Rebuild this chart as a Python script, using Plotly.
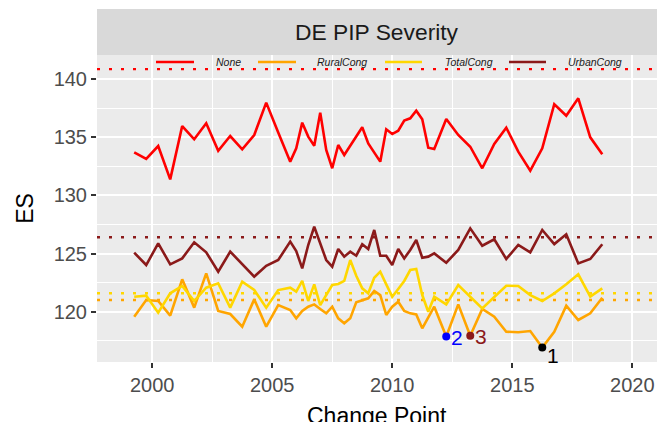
import plotly.graph_objects as go

# ---------------- data ----------------
years = [1999.25, 1999.75, 2000.25, 2000.75, 2001.25, 2001.75, 2002.25, 2002.75,
         2003.25, 2003.75, 2004.25, 2004.75, 2005.25, 2005.75,
         2006.0, 2006.25, 2006.5, 2006.75, 2007.0, 2007.25, 2007.5, 2007.75,
         2008.0, 2008.25, 2008.5, 2008.75, 2009.0, 2009.25, 2009.5, 2009.75,
         2010.0, 2010.25, 2010.5, 2010.75, 2011.0, 2011.25, 2011.5, 2011.75,
         2012.25, 2012.75, 2013.25, 2013.75, 2014.25, 2014.75, 2015.25, 2015.75,
         2016.25, 2016.75, 2017.25, 2017.75, 2018.25, 2018.75]

es_none = [133.70, 133.13, 134.24, 131.38, 135.96, 134.82, 136.19, 133.84,
           135.10, 133.96, 135.19, 137.97, 135.40, 132.90,
           134.04, 136.25, 135.05, 134.27, 137.11, 133.90, 132.33, 134.33,
           133.47, 134.26, 135.05, 135.85, 134.47, 133.70, 132.90, 135.68,
           135.27, 135.56, 136.42, 136.62, 137.28, 136.54, 134.10, 133.99,
           136.56, 135.19, 134.18, 132.33, 134.42, 135.82, 133.76, 132.12,
           134.04, 137.83, 136.85, 138.34, 134.99, 133.53]

es_rural = [119.58, 121.01, 120.93, 119.67, 122.79, 120.36, 123.30, 120.07,
            119.81, 118.72, 121.07, 118.72, 120.58, 120.15,
            119.44, 120.07, 120.44, 120.64, 120.24, 119.87, 120.44, 119.44,
            119.01, 119.44, 120.81, 121.01, 121.16, 121.79, 121.44, 119.73,
            120.44, 120.87, 120.07, 119.87, 119.78, 118.58, 119.58, 120.44,
            117.88, 120.64, 117.94, 120.25, 119.58, 118.29, 118.24, 118.35,
            116.93, 118.29, 120.53, 119.30, 119.87, 121.21]

es_total = [121.30, 121.39, 119.93, 121.59, 122.22, 120.93, 122.07, 122.45,
            120.36, 122.59, 121.87, 120.36, 121.87, 122.07,
            121.73, 122.65, 120.93, 122.36, 120.58, 121.44, 122.30, 122.39,
            122.65, 124.45, 123.10, 122.02, 121.59, 122.93, 123.45, 122.36,
            121.30, 121.96, 122.65, 123.59, 123.68, 121.44, 120.01, 121.30,
            120.64, 122.30, 121.30, 120.30, 121.27, 122.24, 122.22, 121.44,
            120.93, 121.59, 122.36, 123.22, 121.30, 122.02]

es_urban = [125.08, 124.02, 125.88, 124.08, 124.59, 125.97, 125.11, 123.45,
            125.17, 124.08, 123.02, 123.96, 124.45, 126.03,
            125.22, 123.73, 125.74, 127.31, 125.88, 124.45, 123.88, 125.40,
            124.74, 125.17, 124.82, 125.80, 125.40, 127.03, 124.82, 124.82,
            124.02, 125.40, 124.59, 125.31, 126.17, 124.65, 124.74, 125.02,
            124.22, 125.31, 127.17, 125.68, 126.23, 124.54, 125.74, 125.11,
            127.03, 125.82, 126.66, 124.16, 124.54, 125.80]

series_names = ["None", "RuralCong", "TotalCong", "UrbanCong"]
series_values = [es_none, es_rural, es_total, es_urban]
series_colors = ["#FF0000", "#FFA500", "#FFD700", "#8B1A1A"]

# reference (dotted) levels per series
ref_levels = [140.85, 121.01, 121.59, 126.40]

# change points
cp_x = [2016.25, 2012.25, 2013.25]
cp_y = [116.93, 117.88, 117.94]
cp_labels = ["1", "2", "3"]
cp_colors = ["#000000", "#0000FF", "#8B1A1A"]

x_ticks = [2000, 2005, 2010, 2015, 2020]
y_ticks = [120, 125, 130, 135, 140]
x_range = [1997.70, 2021.03]
y_range = [115.69, 142.06]

# ---------------- figure ----------------
FONT = "Liberation Sans, Arial, sans-serif"
W, H = 661, 422
ML, MR, MT, MB = 97, 4, 55, 60
PW, PH = W - ML - MR, H - MT - MB

fig = go.Figure()

# dotted reference levels, spanning the whole panel
for lvl, col in zip(ref_levels, series_colors):
    fig.add_trace(go.Scatter(x=x_range, y=[lvl, lvl], mode="lines", showlegend=False,
                             hoverinfo="skip",
                             line=dict(color=col, width=2.4, dash="3px,9px")))

for name, vals, col in zip(series_names, series_values, series_colors):
    fig.add_trace(go.Scatter(x=years, y=vals, mode="lines", name=name, showlegend=False,
                             line=dict(color=col, width=2.6)))

fig.add_trace(go.Scatter(x=cp_x, y=cp_y, mode="markers",
                         marker=dict(color=cp_colors, size=8),
                         showlegend=False, cliponaxis=False))
label_yshift = [-8, -1, -1]
for lx, ly, lab, col, ys in zip(cp_x, cp_y, cp_labels, cp_colors, label_yshift):
    fig.add_annotation(x=lx, y=ly, text=lab, showarrow=False, xanchor="left",
                       yanchor="middle", xshift=3, yshift=ys,
                       font=dict(size=21, color=col, family=FONT))

# facet strip
fig.add_shape(type="rect", xref="paper", yref="paper", x0=0, x1=1,
              y0=1, y1=1 + 46 / PH, fillcolor="#D9D9D9", line=dict(width=0))
fig.add_annotation(text="DE PIP Severity", xref="paper", yref="paper", x=0.5,
                   y=1 + 23 / PH, showarrow=False, yanchor="middle",
                   font=dict(size=22.8, color="#1A1A1A", family=FONT))

# x-axis title (sits low, partly past the bottom edge as in the reference)
fig.add_annotation(text="Change Point", xref="paper", yref="paper", x=0.5,
                   y=-(416 - (H - MB)) / PH, showarrow=False, yanchor="middle",
                   font=dict(size=23, color="#000000", family=FONT))

# legend (drawn inside the top of the panel)
leg_line_px = [(156, 194), (258, 296), (385, 422), (509, 546)]
leg_text_px = [214, 315, 443, 566]
leg_y = (H - MB - 62) / PH
for (a, b), tx, name, col in zip(leg_line_px, leg_text_px, series_names, series_colors):
    fig.add_shape(type="line", xref="paper", yref="paper",
                  x0=(a - ML) / PW, x1=(b - ML) / PW, y0=leg_y, y1=leg_y,
                  line=dict(color=col, width=2.4))
    fig.add_annotation(text="<i>" + name + "</i>", xref="paper", yref="paper",
                       x=(tx - ML) / PW, y=leg_y, xanchor="left", yanchor="middle",
                       showarrow=False, font=dict(size=10.5, color="#1A1A1A", family=FONT))

axis_common = dict(showgrid=True, gridcolor="white", gridwidth=1.8,
                   ticks="outside", ticklen=5, tickwidth=1.5, tickcolor="#333333",
                   tickfont=dict(size=20, color="#4D4D4D", family=FONT),
                   zeroline=False, showline=False, automargin=False)

fig.update_xaxes(range=x_range, tickvals=x_ticks,
                 minor=dict(dtick=2.5, tick0=2000, showgrid=True, gridcolor="white", gridwidth=0.9),
                 **axis_common)
fig.update_yaxes(range=y_range, tickvals=y_ticks,
                 minor=dict(dtick=2.5, tick0=120, showgrid=True, gridcolor="white", gridwidth=0.9),
                 title=dict(text="ES", font=dict(size=23, color="#000000", family=FONT), standoff=13),
                 **axis_common)

fig.update_layout(width=W, height=H,
                  margin=dict(l=ML, r=MR, t=MT, b=MB),
                  paper_bgcolor="white", plot_bgcolor="#EBEBEB",
                  font=dict(family=FONT),
                  showlegend=False)

fig.write_html("out.html", config={"displayModeBar": False})

# remove the browser's default page margin so the figure sits at the window's corner
with open("out.html", "r", encoding="utf-8") as f:
    page = f.read()
page = page.replace("<head>", "<head><style>html,body{margin:0;padding:0;overflow:hidden;}</style>", 1)
with open("out.html", "w", encoding="utf-8") as f:
    f.write(page)
